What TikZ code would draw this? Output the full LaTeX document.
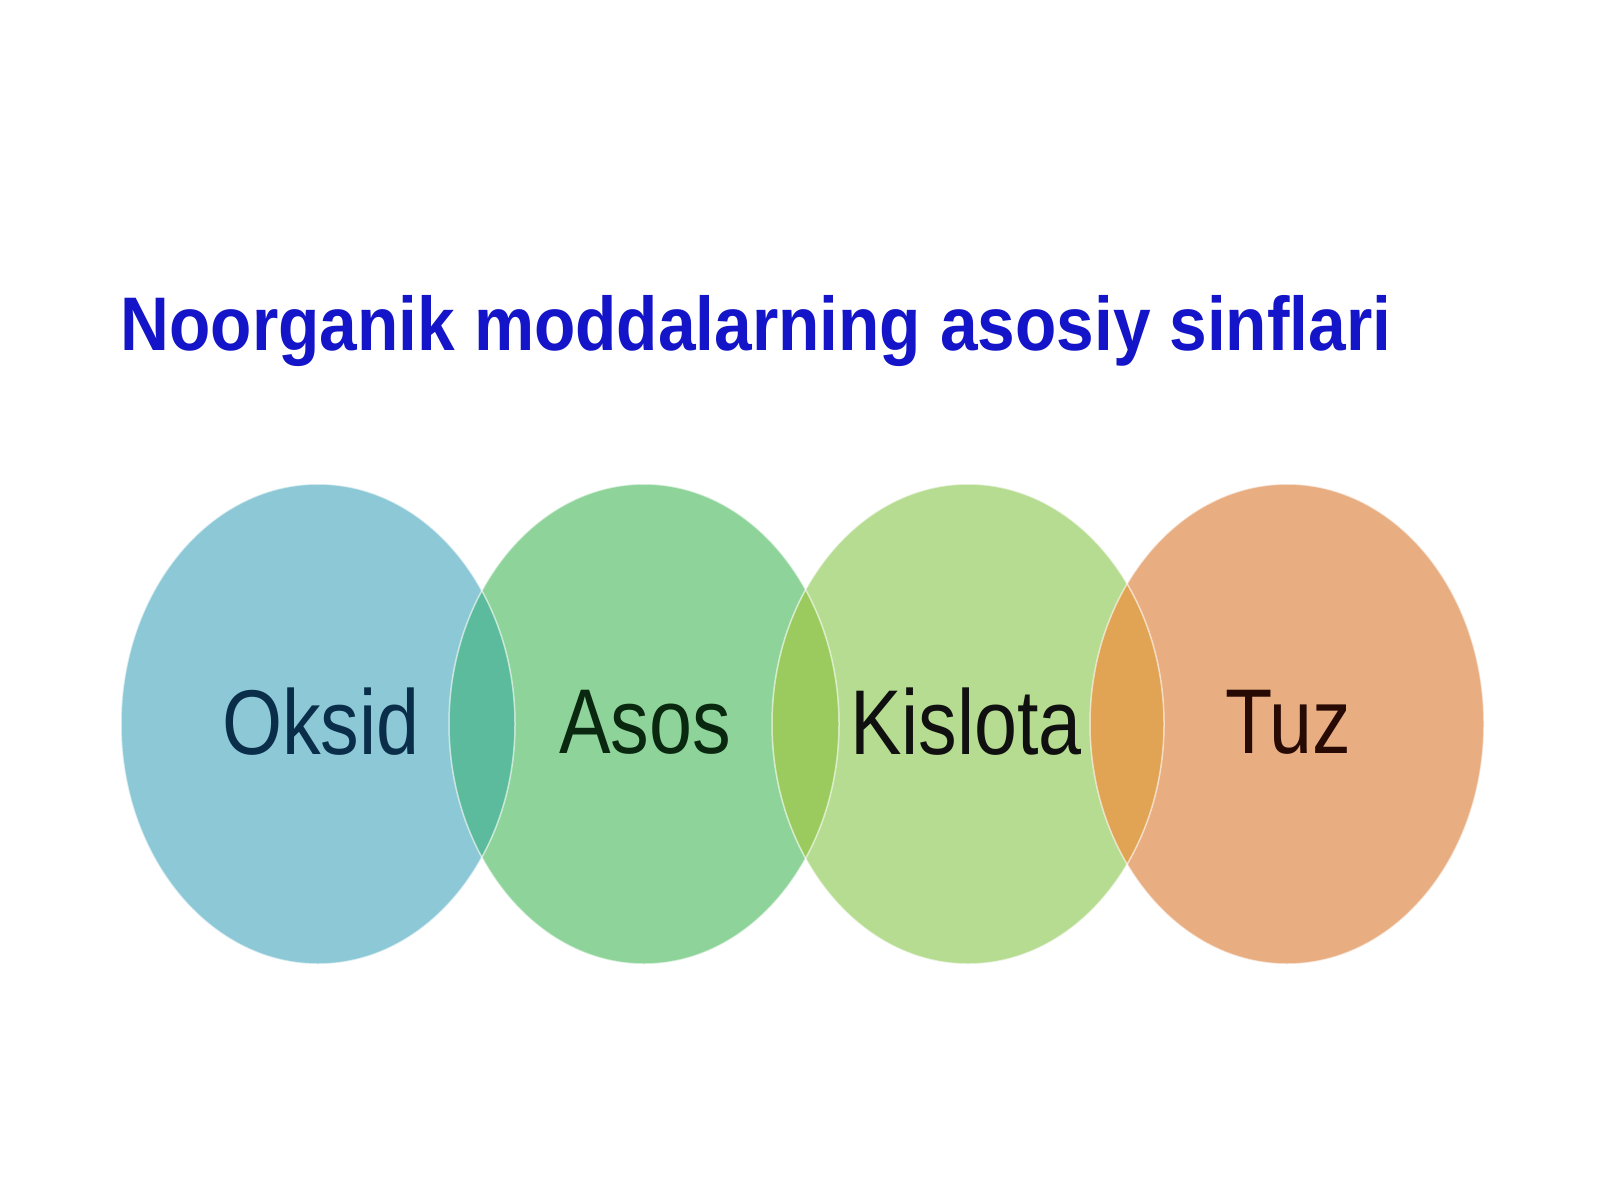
\documentclass[tikz,border=0pt]{standalone}
\usepackage{fontspec}
\setmainfont{Liberation Sans}
\begin{document}
\begin{tikzpicture}[x=1pt,y=-1pt,
  rim/.style={draw=white,line width=1.5pt,opacity=0.6},
  lbl/.style={font=\fontsize{92}{92}\selectfont,inner sep=0pt},
]
\useasboundingbox[fill=white] (0,0) rectangle (1600,1200);
\definecolor{cOks}{HTML}{8CC8D6}
\definecolor{cAso}{HTML}{8ED49A}
\definecolor{cKis}{HTML}{B5DC90}
\definecolor{cTuz}{HTML}{E8AE82}
\definecolor{cOA}{HTML}{5CBB9C}
\definecolor{cAK}{HTML}{9BCB5E}
\definecolor{cKT}{HTML}{E0A454}
\definecolor{titleblue}{HTML}{1414C8}
% ellipses
\fill[cOks] (318,724) ellipse [x radius=197,y radius=240];
\fill[cAso] (644,724) ellipse [x radius=195,y radius=240];
\fill[cKis] (968,724) ellipse [x radius=196,y radius=240];
\fill[cTuz] (1287,724) ellipse [x radius=197,y radius=240];
\begin{scope}
  \clip (318,724) ellipse [x radius=197,y radius=240];
  \fill[cOA] (644,724) ellipse [x radius=195,y radius=240];
\end{scope}
\begin{scope}
  \clip (644,724) ellipse [x radius=195,y radius=240];
  \fill[cAK] (968,724) ellipse [x radius=196,y radius=240];
\end{scope}
\begin{scope}
  \clip (968,724) ellipse [x radius=196,y radius=240];
  \fill[cKT] (1287,724) ellipse [x radius=197,y radius=240];
\end{scope}
\draw[rim] (318,724) ellipse [x radius=197,y radius=240];
\draw[rim] (644,724) ellipse [x radius=195,y radius=240];
\draw[rim] (968,724) ellipse [x radius=196,y radius=240];
\draw[rim] (1287,724) ellipse [x radius=197,y radius=240];
% title
\node[inner sep=0pt,text=titleblue,font=\fontsize{76}{76}\bfseries] (title) at (756,331)
  {\scalebox{0.89}[1]{Noorganik moddalarning asosiy sinflari}};
% labels
\node[lbl,text={rgb,255:red,10;green,46;blue,74}] (oksid) at (321,722) {\scalebox{0.84}[1]{Oksid}};
\node[lbl,text={rgb,255:red,10;green,40;blue,16}] (asos) at (645,722) {\scalebox{0.84}[1]{Asos}};
\node[lbl,text={rgb,255:red,16;green,16;blue,16}] (kislota) at (966,722) {\scalebox{0.84}[1]{Kislota}};
\node[lbl,text={rgb,255:red,40;green,10;blue,5}] (tuz) at (1288,722) {\scalebox{0.84}[1]{Tuz}};
\end{tikzpicture}
\end{document}
